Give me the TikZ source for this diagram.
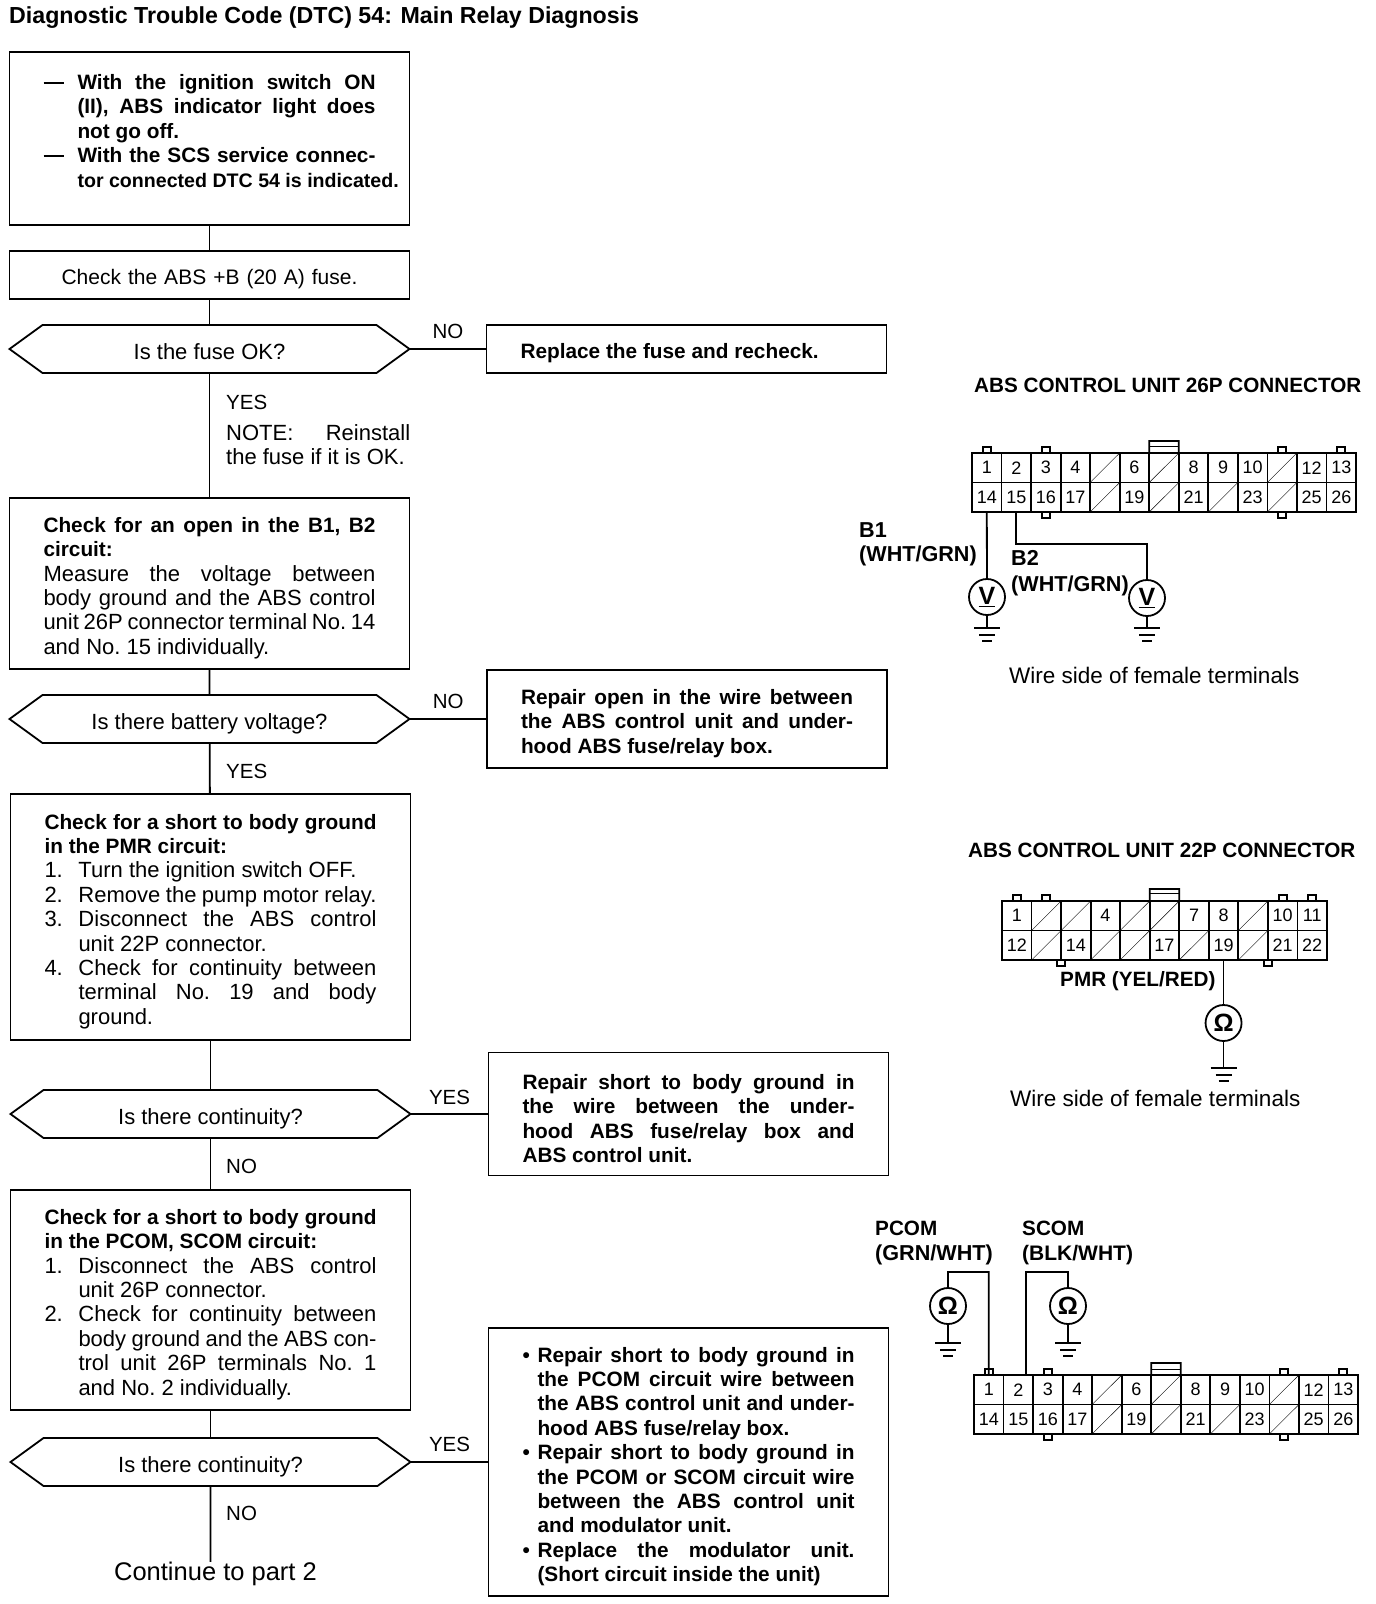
\documentclass[tikz,border=0pt]{standalone}
\usepackage{fontspec}
\setmainfont{Liberation Sans}
\usetikzlibrary{shapes.symbols}
\newcommand{\hang}[2]{\hangindent=#1pt\hangafter=0\noindent\llap{\hbox to #1pt{#2\hfil}}}
\newcommand{\itm}[1]{\par\hang{34}{#1}}
\newcommand{\lb}{\linebreak[4]}
\newcommand{\regfont}{\mdseries\fontsize{22}{24.4}\selectfont}
\newcommand{\conncells}[6]{%
    \foreach \p in {#5} {
        \pgfmathtruncatemacro{\c}{mod(\p-1,#4)}
        \pgfmathtruncatemacro{\r}{(\p-1-\c)/#4}
        \node (#1\p) [pincell] at ({#2+(\c+0.5)*29.54},{#3+(\r+0.5)*29.5}) {\p};
    }
    \foreach \p in {#6} {
        \pgfmathtruncatemacro{\c}{mod(\p-1,#4)}
        \pgfmathtruncatemacro{\r}{(\p-1-\c)/#4}
        \node (#1\p) [pincell] at ({#2+(\c+0.5)*29.54},{#3+(\r+0.5)*29.5}) {};
        \draw [thin] (#1\p.south west) -- (#1\p.north east);
    }
}
\tikzset{
    wire/.style={line width=1.8pt},
    textbox/.style={draw, wire, text width=332pt, inner xsep=34pt, inner ysep=0pt, outer sep=0pt, align=justify, font=\fontsize{20.8}{24.4}\selectfont\bfseries\frenchspacing, execute at begin node=\rule{0pt}{24pt}},
    plainbox/.style={textbox, align=center, font=\fontsize{21}{24.4}\selectfont},
    question/.style={draw, wire, signal, signal to=west and east, signal pointer angle=72, minimum width=400pt, minimum height=48pt, inner sep=0pt, outer sep=0pt, text height=24pt, text depth=3pt, font=\fontsize{22}{24.4}\selectfont},
    answer/.style={font=\fontsize{20.5}{24.4}\selectfont},
    notetext/.style={font=\fontsize{22}{24.4}\selectfont\frenchspacing},
    partlabel/.style={font=\fontsize{20.7}{24.4}\selectfont\bfseries, align=left, inner sep=0pt},
    colourlabel/.style={partlabel, font=\fontsize{21.6}{24.4}\selectfont\bfseries},
    sidetext/.style={font=\fontsize{22.5}{24.4}\selectfont, inner sep=0pt},
    pincell/.style={draw, wire, minimum width=29.54pt, minimum height=29.5pt, inner sep=0pt, outer sep=0pt, font=\fontsize{18}{18}\selectfont},
    meter/.style={draw, wire, circle, minimum size=36pt, inner sep=0pt, outer sep=0pt, font=\fontsize{25}{25}\selectfont\bfseries},
    gndbars/.pic={
        \draw [wire] (-13,0) -- (13,0);
        \draw [wire] (-8,7) -- (8,7);
        \draw [wire] (-5,13) -- (5,13);
    }
}
\begin{document}
\begin{tikzpicture}[x=1pt, y=-1pt]
    \useasboundingbox (0,0) rectangle (1376,1604);

    \node (title) [anchor=west, inner sep=0pt, font=\fontsize{23.2}{24}\selectfont\bfseries] at (9,18) {Diagnostic Trouble Code (DTC) 54: Main Relay Diagnosis};

    \node (start) [textbox, minimum height=173pt] at (209.5,138.5) {%
        \hang{34}{\rule[6pt]{20pt}{2pt}}With the ignition switch ON\lb
        (II), ABS indicator light does\lb
        not go off.
        \itm{\rule[6pt]{20pt}{2pt}}With the SCS service connec-\lb
        \mbox{\fontsize{19.6}{24.4}\selectfont tor connected DTC 54 is indicated.}\par\noindent\mbox{}};
    \node (fuse) [below of=start, node distance=136.5pt, plainbox, minimum height=48pt] {Check the ABS +B (20 A) fuse.};
    \node (fuseq) [below of=fuse, node distance=74pt, question] {Is the fuse OK?};
    \node (replace) [right of=fuseq, node distance=477pt, textbox, minimum height=48pt] {Replace the fuse and recheck.};
    \node (openbox) [below of=fuseq, node distance=234.5pt, textbox, minimum height=171pt] {%
        Check for an open in the B1, B2\lb
        circuit:\newline
        {\regfont Measure the voltage between\lb
        body ground and the ABS control\lb
        unit 26P connector terminal No. 14\lb
        and No. 15 individually.}};
    \node (batq) [below of=openbox, node distance=135.5pt, question] {Is there battery voltage?};
    \node (repairopen) [right of=batq, node distance=477.5pt, textbox, minimum height=98pt] {%
        Repair open in the wire between\lb
        the ABS control unit and under-\lb
        hood ABS fuse/relay box.};
    \node (pmrbox) [below of=batq, node distance=198pt, xshift=1pt, textbox, minimum height=246pt] {%
        Check for a short to body ground\lb
        in the PMR circuit:
        {\regfont\itm{1.}Turn the ignition switch OFF.
        \itm{2.}Remove the pump motor relay.
        \itm{3.}Disconnect the ABS control\lb
        unit 22P connector.
        \itm{4.}Check for continuity between\lb
        terminal No. 19 and body\lb
        ground.\par}};
    \node (contq) [below of=pmrbox, node distance=197pt, question] {Is there continuity?};
    \node (repairshort) [right of=contq, node distance=478pt, textbox, minimum height=123pt] {%
        Repair short to body ground in\lb
        the wire between the under-\lb
        hood ABS fuse/relay box and\lb
        ABS control unit.};
    \node (pcombox) [below of=contq, node distance=186pt, textbox, minimum height=220pt] {%
        Check for a short to body ground\lb
        in the PCOM, SCOM circuit:
        {\regfont\itm{1.}Disconnect the ABS control\lb
        unit 26P connector.
        \itm{2.}Check for continuity between\lb
        body ground and the ABS con-\lb
        trol unit 26P terminals No. 1\lb
        and No. 2 individually.\par}};
    \node (contqb) [below of=pcombox, node distance=162pt, question] {Is there continuity?};
    \node (bulletbox) [right of=contqb, node distance=478pt, textbox, minimum height=268pt] {%
        \hang{15}{\textbullet}Repair short to body ground in\lb
        the PCOM circuit wire between\lb
        the ABS control unit and under-\lb
        hood ABS fuse/relay box.\par
        \hang{15}{\textbullet}Repair short to body ground in\lb
        the PCOM or SCOM circuit wire\lb
        between the ABS control unit\lb
        and modulator unit.\par
        \hang{15}{\textbullet}Replace the modulator unit.\lb
        (Short circuit inside the unit)\par};
    \node (cont) [below of=contqb, node distance=112pt, xshift=5pt, font=\fontsize{25.5}{24}\selectfont, inner sep=0pt] {Continue to part 2};
    \coordinate (contend) at (contqb |- cont.north);

    \node (yesa) [answer, anchor=west, inner sep=0pt] at (226,402) {YES};
    \node (note) [notetext, anchor=north west, inner sep=0pt, text width=184pt, align=justify] at (226,424) {NOTE: Reinstall\lb the fuse if it is OK.};
    \node (yesb) [answer, anchor=west, inner sep=0pt] at (226,771) {YES};
    \node (noc) [answer, anchor=west, inner sep=0pt] at (226,1166) {NO};
    \node (nod) [answer, anchor=west, inner sep=0pt] at (226,1513) {NO};

    \path [-, wire] (start) edge (fuse)
              (fuse) edge (fuseq)
              (fuseq) edge (openbox)
              (openbox) edge (batq)
              (batq) edge (pmrbox)
              (pmrbox) edge (contq)
              (contq) edge (pcombox)
              (pcombox) edge (contqb)
              (contqb) edge (contend)
              (fuseq) edge node [above=9pt, answer, inner sep=0pt] {NO} (replace)
              (batq) edge node [above=9pt, answer, inner sep=0pt] {NO} (repairopen)
              (contq) edge node [above=8pt, answer, inner sep=0pt] {YES} (repairshort)
              (contqb) edge node [above=9pt, answer, inner sep=0pt] {YES} (bulletbox);

    \node (titleu) [partlabel, anchor=west] at (974,385) {ABS CONTROL UNIT 26P CONNECTOR};
    \conncells{u}{972}{453}{13}{1,2,3,4,6,8,9,10,12,13,14,15,16,17,19,21,23,25,26}{5,7,11,18,20,22,24}
    \foreach \t in {u1,u3,u11,u13}
        \draw [wire] (\t.north) ++(-4,0) -- ++(0,-6) -- ++(8,0) -- ++(0,6);
    \foreach \t in {u16,u24}
        \draw [wire] (\t.south) ++(-4,0) -- ++(0,6) -- ++(8,0) -- ++(0,-6);
    \draw [wire] (u7.north west) -- ++(0,-12) -- ++(29.5,0) -- (u7.north east);
    \draw [thin] (u7.north west) ++(0,-7) -- ++(29.5,0);

    \node (bone) [colourlabel, anchor=west] at (859,530) {B1};
    \node (bonew) [colourlabel, anchor=west] at (859,556) {(WHT/GRN)};
    \node (btwo) [colourlabel, anchor=west] at (1011,558) {B2};
    \node (btwow) [colourlabel, anchor=west] at (1011,586) {(WHT/GRN)};
    \node (vone) [meter] at (987,597) {\underline{V}};
    \node (vtwo) [meter] at (1147,598) {\underline{V}};
    \coordinate (gvone) at (987,628);
    \coordinate (gvtwo) at (1147,628);
    \coordinate (btwojog) at (1147,544);
    \pic at (gvone) {gndbars};
    \pic at (gvtwo) {gndbars};
    \path [-, wire] (u14) edge (vone)
              (vone) edge (gvone)
              (vtwo) edge (gvtwo);
    \draw [wire] (u15.south) |- (btwojog) -- (vtwo.north);
    \node (sideu) [sidetext, anchor=west] at (1009,675) {Wire side of female terminals};

    \node (titlev) [partlabel, anchor=west] at (968,850) {ABS CONTROL UNIT 22P CONNECTOR};
    \conncells{v}{1002}{901}{11}{1,4,7,8,10,11,12,14,17,19,21,22}{2,3,5,6,9,13,15,16,18,20}
    \foreach \t in {v1,v2,v10,v11}
        \draw [wire] (\t.north) ++(-4,0) -- ++(0,-6) -- ++(8,0) -- ++(0,6);
    \foreach \t in {v13.south east,v20.south east}
        \draw [wire] (\t) ++(-4,0) -- ++(0,6) -- ++(8,0) -- ++(0,-6);
    \draw [wire] (v6.north west) -- ++(0,-12) -- ++(29.5,0) -- (v6.north east);
    \draw [thin] (v6.north west) ++(0,-8) -- ++(29.5,0);

    \node (pmr) [partlabel, anchor=west] at (1060,981) {PMR (YEL/RED)};
    \node (ohma) [meter] at (v19 |- 0,1023) {Ω};
    \coordinate (gohma) at (v19 |- 0,1068);
    \pic at (gohma) {gndbars};
    \path [-, wire] (v19) edge (ohma)
              (ohma) edge (gohma);
    \node (sidev) [sidetext, anchor=west] at (1010,1098) {Wire side of female terminals};

    \node (pcom) [partlabel, anchor=west] at (875,1228) {PCOM};
    \node (pcomw) [colourlabel, anchor=west] at (875,1255) {(GRN/WHT)};
    \node (scom) [partlabel, anchor=west] at (1022,1228) {SCOM};
    \node (scomw) [colourlabel, anchor=west, font=\fontsize{21}{24.4}\selectfont\bfseries] at (1022,1255) {(BLK/WHT)};
    \conncells{w}{974}{1375}{13}{1,2,3,4,6,8,9,10,12,13,14,15,16,17,19,21,23,25,26}{5,7,11,18,20,22,24}
    \foreach \t in {w1,w3,w11,w13}
        \draw [wire] (\t.north) ++(-4,0) -- ++(0,-6) -- ++(8,0) -- ++(0,6);
    \foreach \t in {w16,w24}
        \draw [wire] (\t.south) ++(-4,0) -- ++(0,6) -- ++(8,0) -- ++(0,-6);
    \draw [wire] (w7.north west) -- ++(0,-12) -- ++(29.5,0) -- (w7.north east);
    \draw [thin] (w7.north west) ++(0,-6) -- ++(29.5,0);

    \node (ohmb) [meter] at (948,1306) {Ω};
    \node (ohmc) [meter] at (1068,1306) {Ω};
    \coordinate (gohmb) at (948,1343);
    \coordinate (gohmc) at (1068,1343);
    \coordinate (pcomjog) at (988.8,1272);
    \coordinate (scomjog) at (1026,1272);
    \pic at (gohmb) {gndbars};
    \pic at (gohmc) {gndbars};
    \path [-, wire] (ohmb) edge (gohmb)
              (ohmc) edge (gohmc);
    \draw [wire] (ohmb.north) |- (pcomjog) -- (w1.north);
    \draw [wire] (ohmc.north) |- (scomjog) -- (scomjog |- w2.north);
\end{tikzpicture}
\end{document}
